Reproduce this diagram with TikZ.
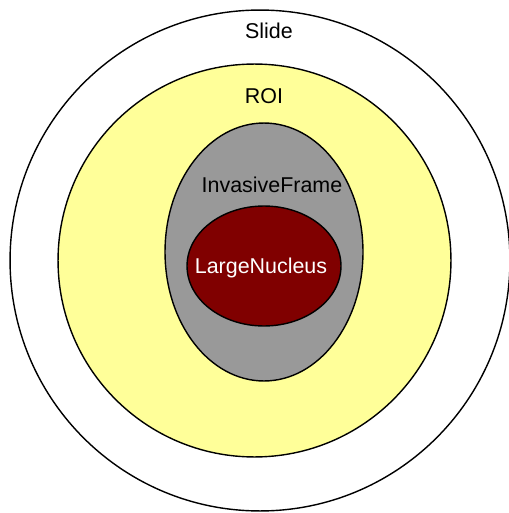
\documentclass[tikz,border=0pt]{standalone}
\usepackage{fontspec}
\setmainfont{Liberation Sans}
\usetikzlibrary{shapes.geometric}

\definecolor{roiyellow}{HTML}{FFFF99}
\definecolor{framegray}{HTML}{999999}
\definecolor{nucleusred}{HTML}{800000}

\begin{document}
\begin{tikzpicture}[x=0.02cm, y=-0.02cm, every node/.style={font=\fontsize{12.2}{14}\selectfont}]
		\useasboundingbox (0,0) rectangle (509,513);

		\draw (260,260.5) node[ellipse, minimum width = 10cm, minimum height = 10.02cm, line width = 0.8pt, draw] (slide) {};
		\draw (254.5,260.5) node[ellipse, minimum width = 7.86cm, minimum height = 7.86cm, line width = 0.8pt, draw, fill = roiyellow] (roi) {};
		\draw (264,252) node[ellipse, minimum width = 3.96cm, minimum height = 5.16cm, line width = 0.8pt, draw, fill = framegray] (frame) {};
		\draw (264,266) node[ellipse, minimum width = 3.08cm, minimum height = 2.4cm, line width = 0.8pt, draw, fill = nucleusred] (nucleus) {};

		\draw (269,31) node (slidetext) {Slide};
		\draw (264,96) node (roitext) {ROI};
		\draw (272,185) node (frametext) {InvasiveFrame};
		\draw (261,268) node[text = white] (nucleustext) {LargeNucleus};
	\end{tikzpicture}
\end{document}
